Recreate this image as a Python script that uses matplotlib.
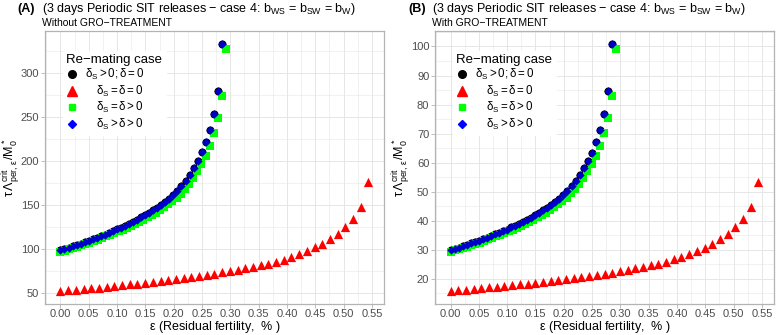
import matplotlib
matplotlib.use('Agg')
import matplotlib.pyplot as plt
import numpy as np
from matplotlib.lines import Line2D
from matplotlib.ticker import MultipleLocator

plt.rcParams['font.family'] = ['Liberation Sans', 'DejaVu Sans']
plt.rcParams['mathtext.fontset'] = 'custom'
plt.rcParams['mathtext.rm'] = 'Liberation Sans'
plt.rcParams['mathtext.it'] = 'Liberation Sans'
plt.rcParams['mathtext.bf'] = 'Liberation Sans:bold'

# residual fertility grids (41 values per case)
eps_blue = np.linspace(0, 0.285, 41)
eps_green = np.linspace(0, 0.293, 41)
eps_red = np.linspace(0, 0.544, 41)

# panel A : without GRO-treatment
blue_A = [98.5, 100.0, 101.5, 103.0, 104.6, 106.2, 107.8, 109.4, 111.1, 112.8,
          114.6, 116.4, 118.3, 120.2, 122.2, 124.3, 126.4, 128.6, 130.9, 133.3,
          135.8, 138.4, 141.1, 144.0, 147.0, 150.2, 153.6, 157.2, 161.1, 166.0,
          171.5, 177.5, 184.2, 192.1, 200.2, 209.6, 221.1, 235.7, 253.3, 279.3,
          333.3]
green_A = [96.7, 98.2, 99.7, 101.1, 102.7, 104.3, 105.9, 107.4, 109.1, 110.8,
           112.5, 114.3, 116.2, 118.0, 120.0, 122.1, 124.1, 126.3, 128.5, 130.9,
           133.4, 135.9, 138.6, 141.4, 144.4, 147.5, 150.8, 154.4, 158.2, 163.0,
           168.4, 174.3, 180.9, 188.6, 196.6, 205.8, 217.1, 231.5, 248.7, 274.3,
           327.3]
red_A = [52.2, 53.0, 53.8, 54.6, 55.4, 56.3, 57.1, 58.0, 58.9, 59.8,
         60.7, 61.7, 62.7, 63.7, 64.8, 65.9, 67.0, 68.2, 69.4, 70.6,
         72.0, 73.4, 74.8, 76.3, 77.9, 79.6, 81.4, 83.3, 85.4, 88.0,
         90.9, 94.1, 97.6, 101.8, 106.1, 111.1, 117.2, 124.9, 134.2, 148.0,
         176.6]

# panel B : with GRO-treatment
blue_B = [29.8, 30.3, 30.8, 31.2, 31.7, 32.2, 32.7, 33.1, 33.7, 34.2,
          34.7, 35.3, 35.8, 36.4, 37.0, 37.7, 38.3, 39.0, 39.7, 40.4,
          41.1, 41.9, 42.8, 43.6, 44.5, 45.5, 46.5, 47.6, 48.8, 50.3,
          52.0, 53.8, 55.8, 58.2, 60.7, 63.5, 67.0, 71.4, 76.7, 84.6,
          101.0]
green_B = [29.3, 29.8, 30.2, 30.6, 31.1, 31.6, 32.1, 32.5, 33.1, 33.6,
           34.1, 34.6, 35.2, 35.8, 36.4, 37.0, 37.6, 38.3, 38.9, 39.7,
           40.4, 41.2, 42.0, 42.8, 43.8, 44.7, 45.7, 46.8, 47.9, 49.4,
           51.0, 52.8, 54.8, 57.1, 59.6, 62.4, 65.8, 70.1, 75.4, 83.1,
           99.2]
red_B = [15.8, 16.1, 16.3, 16.5, 16.8, 17.1, 17.3, 17.6, 17.8, 18.1,
         18.4, 18.7, 19.0, 19.3, 19.6, 20.0, 20.3, 20.7, 21.0, 21.4,
         21.8, 22.2, 22.7, 23.1, 23.6, 24.1, 24.7, 25.2, 25.9, 26.7,
         27.5, 28.5, 29.6, 30.8, 32.1, 33.7, 35.5, 37.8, 40.7, 44.8,
         53.5]

legend_labels = [r'$\delta_S > 0;\delta = 0$', r'$\delta_S = \delta = 0$',
                 r'$\delta_S = \delta > 0$', r'$\delta_S > \delta > 0$']
x_ticks = [0.00, 0.05, 0.10, 0.15, 0.20, 0.25, 0.30, 0.35, 0.40, 0.45, 0.50, 0.55]

GREEN = '#00FF00'
GRID = '#E6E6E6'
BORDER = '#B3B3B3'
TXT = '#4D4D4D'
DPI = 100


def draw_panel(fig, rect, blue, green, red, ystep, letter, subtitle):
    ax = fig.add_axes(rect)
    ax.scatter(eps_blue, blue, s=34, c='black', marker='o', lw=0, zorder=3)
    ax.scatter(eps_red, red, s=44, c='red', marker='^', lw=0, zorder=3)
    ax.scatter(eps_green, green, s=26, c=GREEN, marker='s', lw=0, zorder=4)
    ax.scatter(eps_blue, blue, s=18, c='#0000CC', marker='D', lw=0, zorder=5)

    # ggplot-like 5% expansion
    ally = list(blue) + list(green) + list(red)
    lo, hi = min(ally), max(ally)
    pad = 0.05 * (hi - lo)
    ax.set_ylim(lo - pad, hi + pad)
    ax.set_xlim(-0.0272, 0.5712)

    ax.set_xticks(x_ticks)
    ax.set_xticklabels([f'{v:.2f}' for v in x_ticks])
    ax.yaxis.set_major_locator(MultipleLocator(ystep))
    ax.xaxis.set_minor_locator(MultipleLocator(0.025))
    ax.yaxis.set_minor_locator(MultipleLocator(ystep / 2))
    ax.grid(which='major', color=GRID, lw=0.7)
    ax.grid(which='minor', color=GRID, lw=0.4)
    ax.set_axisbelow(True)
    for s in ax.spines.values():
        s.set_color(BORDER)
        s.set_linewidth(0.9)
    ax.tick_params(which='major', length=3, width=0.6, color=BORDER,
                   labelsize=8, labelcolor=TXT, pad=1.2)
    ax.tick_params(which='minor', length=0)

    ax.set_xlabel(r'$\varepsilon$ (Residual fertility,  % )', fontsize=9)
    ax.xaxis.set_label_coords(0.5, -0.056)
    ax.set_ylabel(r'$\tau\,\Lambda^{crit}_{per,\,\varepsilon}/M_0^*$', fontsize=9)
    ax.yaxis.set_label_coords(-0.067, 0.5)

    handles = [Line2D([], [], ls='', marker='o', color='black', ms=5.5),
               Line2D([], [], ls='', marker='^', color='red', ms=6.5),
               Line2D([], [], ls='', marker='s', color=GREEN, ms=5),
               Line2D([], [], ls='', marker='D', color='#0000FF', ms=3.6)]
    leg = ax.legend(handles, legend_labels, title='Re\u2212mating case',
                    loc='upper left', bbox_to_anchor=(0.035, 0.95),
                    frameon=True, fancybox=False, edgecolor='white',
                    facecolor='white', framealpha=1, fontsize=8.3,
                    title_fontsize=9.5, handletextpad=0.6, labelspacing=0.12,
                    borderpad=0.3, handlelength=1.0)
    leg._legend_box.align = 'left'
    leg.set_zorder(6)
    # right-align the entry labels like the original legend
    renderer = fig.canvas.get_renderer()
    widths = [t.get_window_extent(renderer).width for t in leg.get_texts()]
    wmax = max(widths)
    for t, w in zip(leg.get_texts(), widths):
        t.set_ha('right')
        t.set_position((wmax - w, 0))

    x0 = rect[0]
    fig.text(0.023 + (x0 - 0.058), 0.972, letter, fontsize=9, fontweight='bold',
             va='center', ha='left')
    fig.text(0.054 + (x0 - 0.058), 0.972,
             r'(3 days Periodic SIT releases $-$ case 4: b$_{WS}$ = b$_{SW}$ = b$_{W}$)',
             fontsize=9, va='center', ha='left')
    fig.text(0.054 + (x0 - 0.058), 0.932, subtitle, fontsize=7.5,
             va='center', ha='left')
    return ax


fig = plt.figure(figsize=(7.77, 3.35), dpi=DPI)
draw_panel(fig, [0.058, 0.094, 0.436, 0.813], blue_A, green_A, red_A, 50,
           '(A)', 'Without GRO\u2212TREATMENT')
draw_panel(fig, [0.560, 0.094, 0.436, 0.813], blue_B, green_B, red_B, 10,
           '(B)', 'With GRO\u2212TREATMENT')
fig.savefig('out.png', dpi=DPI)
